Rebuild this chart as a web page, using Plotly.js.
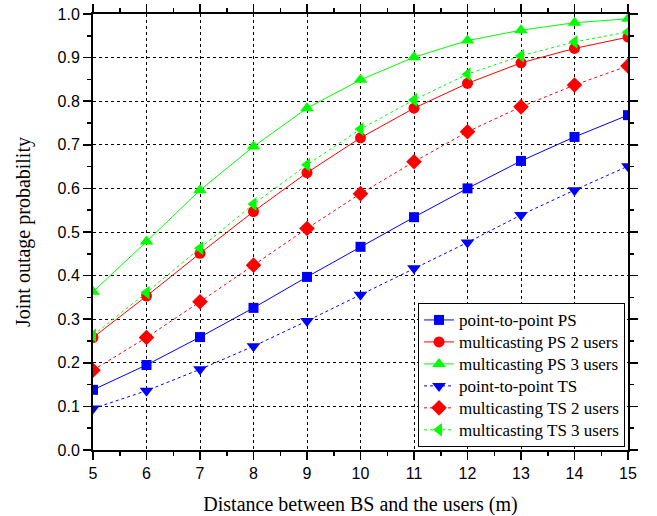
<!DOCTYPE html>
<html><head><meta charset="utf-8">
<script src="https://cdn.plot.ly/plotly-3.0.1.min.js"></script>
<style>html,body{margin:0;padding:0;background:#fff}</style>
</head><body><div id="chart" style="width:657px;height:516px"></div>
<script>
const distance = [5,6,7,8,9,10,11,12,13,14,15];
const p2pPS = [0.138,0.195,0.259,0.326,0.397,0.466,0.534,0.600,0.663,0.718,0.768];
const mcPS2 = [0.258,0.353,0.451,0.547,0.636,0.716,0.784,0.841,0.888,0.921,0.947];
const mcPS3 = [0.363,0.478,0.596,0.696,0.784,0.849,0.901,0.939,0.963,0.980,0.989];
const p2pTS = [0.095,0.136,0.185,0.238,0.296,0.356,0.417,0.476,0.539,0.596,0.651];
const mcTS2 = [0.183,0.258,0.340,0.424,0.508,0.588,0.661,0.730,0.787,0.837,0.881];
const mcTS3 = [0.263,0.361,0.463,0.564,0.654,0.736,0.803,0.862,0.904,0.936,0.959];
const names = ['point-to-point PS','multicasting PS 2 users','multicasting PS 3 users','point-to-point TS','multicasting TS 2 users','multicasting TS 3 users'];

function tr(y, name, color, dash, symbol, size){
  return {x: distance, y: y, name: '<span style="font-size:17px">' + name + '</span>', type:'scatter', mode:'lines+markers',
    line:{color:color, width:1, dash:dash},
    marker:{color:color, symbol:symbol, size:size, line:{width:0}}};
}
const data = [
  tr(p2pPS, names[0], '#0000ff', 'solid', 'square', 10),
  tr(mcPS2, names[1], '#ff0000', 'solid', 'circle', 11),
  tr(mcPS3, names[2], '#00ff00', 'solid', 'triangle-up', 12),
  tr(p2pTS, names[3], '#0000ff', 'dot', 'triangle-down', 12),
  tr(mcTS2, names[4], '#ff0000', 'dot', 'diamond', 12),
  tr(mcTS3, names[5], '#00ff00', 'dot', 'triangle-left', 12)
];
const layout = {
  width:657, height:516,
  margin:{l:93, r:29, t:14, b:66},
  paper_bgcolor:'#fff', plot_bgcolor:'#fff',
  font:{family:'Liberation Sans, Arial', color:'#000', size:16},
  xaxis:{range:[5,15], dtick:1, tick0:5, showline:true, linecolor:'#000', linewidth:2,
    mirror:'ticks', ticks:'outside', ticklen:8, tickwidth:1.5, tickcolor:'#000',
    minor:{dtick:0.5, ticks:'outside', ticklen:4, tickcolor:'#000', showgrid:false},
    showgrid:true, gridcolor:'#000', griddash:'dot', gridwidth:1, zeroline:false,
    title:{text:'Distance between BS and the users (m)', font:{family:'Liberation Serif, Times New Roman', size:20}, standoff:20}},
  yaxis:{range:[0,1.0], dtick:0.1, tick0:0, tickformat:'.1f', showline:true, linecolor:'#000', linewidth:2,
    mirror:'ticks', ticks:'outside', ticklen:8, tickwidth:1.5, tickcolor:'#000',
    minor:{dtick:0.05, ticks:'outside', ticklen:4, tickcolor:'#000', showgrid:false},
    showgrid:true, gridcolor:'#000', griddash:'dot', gridwidth:1, zeroline:false,
    title:{text:'Joint outage probability', font:{family:'Liberation Serif, Times New Roman', size:20}, standoff:22}},
  legend:{x:0.9944, y:0.007, xanchor:'right', yanchor:'bottom', bgcolor:'#fff', bordercolor:'#000', borderwidth:1,
    font:{family:'Liberation Serif, Times New Roman', size:14.6}, tracegroupgap:0, itemwidth:30},
  showlegend:true
};
Plotly.newPlot('chart', data, layout, {displayModeBar:false, staticPlot:true});
</script></body></html>
